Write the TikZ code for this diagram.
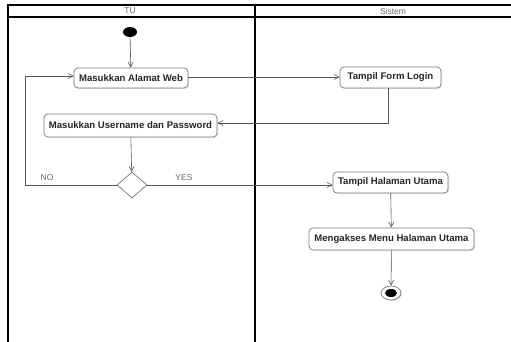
\documentclass[tikz,border=0pt]{standalone}
\usepackage{fontspec}
\setmainfont{Liberation Sans}
\usetikzlibrary{arrows.meta,shapes.geometric,shadows}
\definecolor{edgegray}{HTML}{555555}
\definecolor{boxgray}{HTML}{777777}
\begin{document}
\begin{tikzpicture}[x=1pt,y=-1pt,
  lane/.style={draw=black,line width=1.1pt},
  act/.style={draw=boxgray,line width=0.7pt,rounded corners=4pt,fill=white,
    font=\bfseries\fontsize{9.6}{10}\selectfont,text=black!85,inner sep=0pt,
    drop shadow={opacity=0.18,shadow xshift=1.2pt,shadow yshift=-1.2pt}},
  flow/.style={draw=edgegray,line width=0.6pt,-{Straight Barb[length=5pt,width=5pt]}},
  lbl/.style={font=\fontsize{8.5}{9}\selectfont,text=black!60}]
\useasboundingbox (0,0) rectangle (511,342);
% swimlanes
\draw[lane] (8,342) -- (8,5) -- (511,5);
\draw[lane] (8,17) -- (511,17);
\draw[lane] (255,5) -- (255,342);
\node[lbl] (tu) at (130,11) {TU};
\node[lbl] (sistem) at (393,11) {Sistem};
% nodes
\node[ellipse,fill=black,minimum width=14pt,minimum height=10pt,inner sep=0pt] (start) at (130,32) {};
\node[act,minimum width=114pt,minimum height=20pt] (web) at (131,78) {Masukkan Alamat Web};
\node[act,minimum width=101pt,minimum height=21pt] (form) at (390.5,77.5) {Tampil Form Login};
\node[act,minimum width=173pt,minimum height=23pt] (user) at (130.5,125.5) {Masukkan Username dan Password};
\node[diamond,draw=boxgray,line width=0.7pt,fill=white,minimum width=30pt,minimum height=26pt,inner sep=0pt] (dec) at (132,185) {};
\node[act,minimum width=115pt,minimum height=21pt] (home) at (390.5,182.5) {Tampil Halaman Utama};
\node[act,minimum width=165pt,minimum height=22pt] (menu) at (391.5,239) {Mengakses Menu Halaman Utama};
\node[ellipse,draw=boxgray,line width=0.7pt,fill=white,minimum width=20pt,minimum height=14pt,inner sep=0pt,
  drop shadow={opacity=0.18,shadow xshift=1pt,shadow yshift=-1pt}] (end) at (391,293) {};
\node[ellipse,fill=black,minimum width=12pt,minimum height=8pt,inner sep=0pt] (endin) at (391,293) {};
\coordinate (nocorner) at (25,185);
% flows
\draw[flow] (start) -- (web);
\draw[flow] (web.east |- 0,77) -- (form.west |- 0,77);
\draw[flow] (form.south -| 388,0) -- (388,123) -- (user.east |- 0,123);
\draw[flow] (user) -- (dec);
\draw[flow] (dec.west) -- (nocorner) -- (25,76) -- (web.west |- 0,76);
\draw[flow] (dec.east) -- (home.west |- dec.east);
\draw[flow] (home) -- (menu);
\draw[flow] (menu) -- (end);
\node[lbl] (no) at (47,178) {NO};
\node[lbl] (yes) at (184,178) {YES};
\end{tikzpicture}
\end{document}
